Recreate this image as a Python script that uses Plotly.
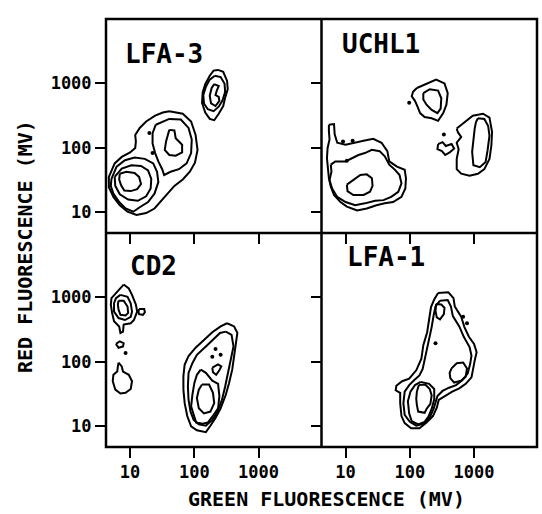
import plotly.graph_objects as go
from plotly.subplots import make_subplots

# ---------------- data (log10 of fluorescence in MV) ----------------
TICK_VALUES = [10, 100, 1000]
TICK_LABELS = ["10", "100", "1000"]
PANEL_NAMES = ["LFA-3", "UCHL1", "CD2", "LFA-1"]

# LFA-3
lfa3_outer_g = [1.61,1.82,1.95,2.02,2.05,2.01,1.93,1.82,1.69,1.58,1.48,1.38,1.25,1.10,0.96,0.84,0.74,0.67,0.67,0.76,0.87,1.00,1.08,1.09,1.08,1.15,1.25,1.39,1.51]
lfa3_outer_r = [2.57,2.53,2.41,2.20,1.97,1.77,1.63,1.51,1.41,1.29,1.18,1.06,0.99,0.96,1.01,1.11,1.24,1.39,1.55,1.76,1.86,1.93,2.00,2.10,2.20,2.31,2.41,2.50,2.55]
lfa3_c1_g = [0.71,0.79,0.92,1.07,1.23,1.36,1.42,1.44,1.38,1.28,1.15,1.05,0.93,0.83,0.74,0.70]
lfa3_c1_r = [1.52,1.71,1.81,1.85,1.83,1.76,1.63,1.47,1.29,1.16,1.08,1.01,1.06,1.16,1.29,1.41]
lfa3_c2_g = [0.76,0.87,1.02,1.17,1.28,1.33,1.32,1.25,1.12,0.97,0.84,0.77]
lfa3_c2_r = [1.55,1.68,1.73,1.72,1.65,1.52,1.37,1.25,1.18,1.20,1.28,1.41]
lfa3_c3_g = [0.84,0.94,1.07,1.14,1.17,1.11,1.01,0.91,0.86,0.83]
lfa3_c3_r = [1.60,1.63,1.61,1.55,1.44,1.36,1.33,1.34,1.42,1.51]
lfa3_b1_g = [1.40,1.61,1.79,1.91,1.96,1.95,1.88,1.76,1.63,1.53,1.50,1.44,1.39,1.35,1.35]
lfa3_b1_r = [2.36,2.45,2.44,2.31,2.13,1.92,1.76,1.67,1.63,1.58,1.67,1.79,1.92,2.07,2.23]
lfa3_b2_g = [1.61,1.69,1.71,1.81,1.81,1.71,1.61,1.54,1.56,1.59]
lfa3_b2_r = [2.28,2.27,2.15,2.05,1.93,1.88,1.89,1.97,2.10,2.20]
lfa3_a1_g = [2.37,2.45,2.51,2.52,2.48,2.45,2.38,2.31,2.24,2.17,2.12,2.13,2.17,2.24,2.30]
lfa3_a1_r = [3.21,3.18,3.04,2.91,2.78,2.65,2.53,2.43,2.45,2.55,2.70,2.86,2.99,3.12,3.20]
lfa3_a2_g = [2.32,2.41,2.47,2.48,2.44,2.38,2.30,2.21,2.15,2.14,2.18,2.24]
lfa3_a2_r = [3.12,3.10,3.00,2.87,2.74,2.64,2.57,2.60,2.69,2.82,2.95,3.06]
lfa3_a3_g = [2.31,2.38,2.35,2.33,2.38,2.39,2.33,2.26,2.24,2.27]
lfa3_a3_r = [2.99,2.96,2.89,2.82,2.79,2.73,2.65,2.69,2.81,2.93]
lfa3_dots_g = [1.30,1.35]
lfa3_dots_r = [2.23,1.92]

# UCHL1
uchl1_d1_g = [2.11,2.26,2.41,2.54,2.59,2.57,2.52,2.44,2.34,2.23,2.16,2.12,2.08,2.03,2.05]
uchl1_d1_r = [2.93,3.00,3.06,3.00,2.85,2.67,2.54,2.42,2.46,2.48,2.54,2.64,2.73,2.80,2.87]
uchl1_d2_g = [2.21,2.31,2.44,2.49,2.48,2.43,2.34,2.26,2.21]
uchl1_d2_r = [2.85,2.91,2.89,2.77,2.61,2.54,2.59,2.67,2.75]
uchl1_e1_g = [2.73,2.86,2.98,3.14,3.24,3.28,3.27,3.24,3.16,3.06,2.93,2.80,2.73,2.73,2.76,2.73,2.80,2.75]
uchl1_e1_r = [2.30,2.40,2.50,2.53,2.47,2.25,2.04,1.83,1.67,1.60,1.57,1.60,1.67,1.83,1.98,2.08,2.17,2.24]
uchl1_e2_g = [3.06,3.16,3.22,3.24,3.21,3.18,3.09,2.99,2.97,2.99,3.01,3.03]
uchl1_e2_r = [2.46,2.45,2.34,2.19,1.96,1.78,1.70,1.73,1.94,2.14,2.30,2.40]
uchl1_s_g = [2.44,2.51,2.56,2.65,2.69,2.62,2.55,2.50,2.43]
uchl1_s_r = [2.06,2.09,2.03,2.06,1.99,1.93,1.89,1.95,1.98]
uchl1_f1_g = [0.74,0.82,0.83,0.87,1.00,1.12,1.28,1.43,1.56,1.65,1.68,1.80,1.92,1.94,1.93,1.87,1.74,1.61,1.48,1.33,1.18,1.02,0.92,0.82,0.77,0.74,0.72,0.71,0.72,0.75,0.74]
uchl1_f1_r = [2.36,2.37,2.21,2.08,2.05,2.08,2.11,2.14,2.08,1.95,1.79,1.71,1.66,1.53,1.37,1.24,1.16,1.14,1.11,1.06,1.03,1.09,1.16,1.27,1.40,1.53,1.69,1.84,2.00,2.13,2.26]
uchl1_f2_g = [0.77,0.84,1.00,1.10,1.20,1.30,1.41,1.53,1.61,1.68,1.77,1.84,1.87,1.82,1.71,1.59,1.46,1.30,1.15,1.00,0.87,0.79,0.75,0.78]
uchl1_f2_r = [1.74,1.79,1.79,1.84,1.89,1.92,1.97,1.95,1.87,1.74,1.66,1.58,1.45,1.32,1.24,1.19,1.18,1.14,1.11,1.16,1.24,1.37,1.50,1.63]
uchl1_f3_g = [1.02,1.12,1.23,1.33,1.41,1.42,1.38,1.28,1.12,1.03]
uchl1_f3_r = [1.43,1.50,1.58,1.59,1.53,1.41,1.32,1.27,1.27,1.33]
uchl1_dots_g = [1.99,2.53,0.96,1.11,1.02]
uchl1_dots_r = [2.70,2.21,2.10,2.11,1.80]

# CD2
cd2_g1_g = [0.90,0.98,1.03,1.09,1.11,1.06,1.01,0.90,0.89,0.85,0.83,0.75,0.72,0.70,0.71,0.80,0.85]
cd2_g1_r = [3.20,3.14,3.04,2.89,2.78,2.65,2.60,2.58,2.47,2.45,2.55,2.63,2.76,2.89,2.99,3.09,3.14]
cd2_gs_g = [1.14,1.22,1.23,1.20,1.14,1.13]
cd2_gs_r = [2.82,2.82,2.77,2.73,2.74,2.78]
cd2_g2_g = [0.85,0.96,1.01,1.03,1.01,0.92,0.82,0.75,0.75,0.78]
cd2_g2_r = [3.04,3.01,2.91,2.78,2.70,2.65,2.68,2.78,2.91,2.99]
cd2_g3_g = [0.82,0.90,0.96,0.97,0.93,0.85,0.82,0.81]
cd2_g3_r = [2.95,2.95,2.86,2.76,2.72,2.73,2.81,2.89]
cd2_e_g = [0.78,0.84,0.90,0.89,0.82]
cd2_e_r = [2.28,2.32,2.29,2.24,2.22]
cd2_h_g = [0.82,0.87,0.89,0.98,1.03,1.01,0.93,0.85,0.77,0.73,0.74,0.80,0.81]
cd2_h_r = [1.99,1.93,1.85,1.80,1.70,1.58,1.52,1.51,1.57,1.70,1.80,1.85,1.93]
cd2_i1_g = [2.51,2.62,2.67,2.64,2.62,2.59,2.54,2.49,2.41,2.33,2.25,2.18,2.04,1.95,1.89,1.85,1.83,1.83,1.85,1.91,2.02,2.15,2.28,2.41]
cd2_i1_r = [2.60,2.55,2.45,2.24,2.03,1.88,1.67,1.49,1.28,1.13,1.01,0.91,0.94,1.00,1.16,1.36,1.57,1.78,1.96,2.09,2.22,2.34,2.46,2.55]
cd2_i2_g = [2.49,2.58,2.61,2.57,2.53,2.48,2.43,2.36,2.28,2.18,2.07,1.99,1.94,1.91,1.90,1.91,1.97,2.04,2.18,2.31,2.40]
cd2_i2_r = [2.47,2.42,2.24,2.03,1.83,1.62,1.41,1.23,1.10,1.01,1.03,1.10,1.23,1.41,1.62,1.83,1.98,2.11,2.24,2.37,2.45]
cd2_i3_g = [2.10,2.18,2.28,2.37,2.39,2.37,2.28,2.21,2.13,2.03,2.00,1.95,1.97,2.00,2.04]
cd2_i3_r = [1.88,1.83,1.71,1.66,1.47,1.28,1.15,1.06,1.04,1.06,1.15,1.31,1.49,1.67,1.80]
cd2_i4_g = [2.12,2.23,2.29,2.31,2.25,2.15,2.07,2.04,2.07]
cd2_i4_r = [1.65,1.65,1.52,1.36,1.23,1.20,1.28,1.44,1.57]
cd2_ib_g = [2.28,2.37,2.42,2.39,2.34,2.29]
cd2_ib_r = [1.91,1.96,1.93,1.87,1.80,1.84]
cd2_dots_g = [0.93,2.33,2.28,2.41]
cd2_dots_r = [2.14,2.20,2.08,2.11]

# LFA-1
lfa1_l1_g = [2.44,2.60,2.68,2.70,2.75,2.80,2.85,2.92,3.00,3.04,3.01,2.98,2.96,2.87,2.77,2.66,2.56,2.45,2.42,2.36,2.26,2.15,2.02,1.92,1.87,1.85,1.85,1.78,1.79,1.88,1.99,2.10,2.18,2.21,2.27,2.30,2.33,2.38]
lfa1_l1_r = [3.07,3.08,2.99,2.86,2.78,2.70,2.54,2.39,2.28,2.15,2.02,1.89,1.76,1.66,1.59,1.54,1.48,1.41,1.29,1.16,1.06,0.97,0.97,1.05,1.16,1.36,1.52,1.56,1.63,1.70,1.74,1.87,2.05,2.26,2.46,2.67,2.85,2.97]
lfa1_l2_g = [2.47,2.59,2.64,2.67,2.77,2.84,2.93,2.96,2.94,2.90,2.82,2.72,2.61,2.51,2.43,2.40,2.37,2.31,2.21,2.10,2.00,1.92,1.90,1.92,1.99,2.07,2.15,2.20,2.23,2.26,2.31,2.34,2.37,2.40]
lfa1_l2_r = [2.95,2.96,2.86,2.71,2.55,2.39,2.23,2.10,1.97,1.82,1.72,1.64,1.60,1.55,1.47,1.37,1.27,1.14,1.04,1.01,1.07,1.18,1.36,1.54,1.64,1.72,1.79,1.89,2.02,2.18,2.36,2.54,2.72,2.86]
lfa1_l3_g = [2.17,2.30,2.38,2.38,2.34,2.29,2.23,2.13,2.03,1.99,1.97,2.01,2.08]
lfa1_l3_r = [1.69,1.66,1.58,1.42,1.27,1.15,1.07,1.03,1.08,1.20,1.39,1.54,1.64]
lfa1_l4_g = [2.14,2.24,2.31,2.34,2.32,2.26,2.23,2.13,2.11,2.10,2.11]
lfa1_l4_r = [1.64,1.65,1.58,1.48,1.35,1.27,1.21,1.23,1.33,1.43,1.54]
lfa1_top_g = [2.41,2.49,2.54,2.53,2.47,2.42,2.40]
lfa1_top_r = [2.90,2.89,2.84,2.74,2.66,2.69,2.79]
lfa1_mid_g = [2.65,2.73,2.83,2.89,2.87,2.80,2.69,2.63,2.62]
lfa1_mid_r = [1.90,1.98,1.99,1.90,1.77,1.71,1.68,1.75,1.83]
lfa1_dots_g = [2.40,2.83,2.89]
lfa1_dots_r = [2.29,2.70,2.60]

PANELS = [
    ([(lfa3_outer_g, lfa3_outer_r), (lfa3_c1_g, lfa3_c1_r), (lfa3_c2_g, lfa3_c2_r), (lfa3_c3_g, lfa3_c3_r),
      (lfa3_b1_g, lfa3_b1_r), (lfa3_b2_g, lfa3_b2_r), (lfa3_a1_g, lfa3_a1_r), (lfa3_a2_g, lfa3_a2_r),
      (lfa3_a3_g, lfa3_a3_r)], (lfa3_dots_g, lfa3_dots_r)),
    ([(uchl1_d1_g, uchl1_d1_r), (uchl1_d2_g, uchl1_d2_r), (uchl1_e1_g, uchl1_e1_r), (uchl1_e2_g, uchl1_e2_r),
      (uchl1_s_g, uchl1_s_r), (uchl1_f1_g, uchl1_f1_r), (uchl1_f2_g, uchl1_f2_r), (uchl1_f3_g, uchl1_f3_r)],
     (uchl1_dots_g, uchl1_dots_r)),
    ([(cd2_g1_g, cd2_g1_r), (cd2_gs_g, cd2_gs_r), (cd2_g2_g, cd2_g2_r), (cd2_g3_g, cd2_g3_r),
      (cd2_e_g, cd2_e_r), (cd2_h_g, cd2_h_r), (cd2_i1_g, cd2_i1_r), (cd2_i2_g, cd2_i2_r),
      (cd2_i3_g, cd2_i3_r), (cd2_i4_g, cd2_i4_r), (cd2_ib_g, cd2_ib_r)], (cd2_dots_g, cd2_dots_r)),
    ([(lfa1_l1_g, lfa1_l1_r), (lfa1_l2_g, lfa1_l2_r), (lfa1_l3_g, lfa1_l3_r), (lfa1_l4_g, lfa1_l4_r),
      (lfa1_top_g, lfa1_top_r), (lfa1_mid_g, lfa1_mid_r)], (lfa1_dots_g, lfa1_dots_r)),
]

# ---------------- figure ----------------
W, H = 542, 514
ML, MR, MT, MB = 106, 5, 19, 67

fig = make_subplots(rows=2, cols=2, horizontal_spacing=0, vertical_spacing=0)
positions = [(1, 1), (1, 2), (2, 1), (2, 2)]

for (contours, dots), (row, col) in zip(PANELS, positions):
    for g, r in contours:
        xs = [10 ** v for v in list(g) + [g[0]]]
        ys = [10 ** v for v in list(r) + [r[0]]]
        fig.add_trace(go.Scatter(x=xs, y=ys, mode="lines",
                                 line=dict(color="black", width=2),
                                 hoverinfo="skip", showlegend=False), row=row, col=col)
    fig.add_trace(go.Scatter(x=[10 ** v for v in dots[0]], y=[10 ** v for v in dots[1]],
                             mode="markers", marker=dict(color="black", size=4),
                             hoverinfo="skip", showlegend=False), row=row, col=col)

tickfont = dict(family="DejaVu Sans Mono", size=17, color="black", weight="bold")
axis_common = dict(type="log", showgrid=False, zeroline=False, showline=False, automargin=False,
                   ticks="outside", ticklen=10, tickwidth=2,
                   tickcolor="black", tickvals=TICK_VALUES, ticktext=TICK_LABELS, tickfont=tickfont)

xdom = [[0, 0.5], [0.5, 1], [0, 0.5], [0.5, 1]]
ydom = [[0.5, 1], [0.5, 1], [0, 0.5], [0, 0.5]]
for i in range(4):
    sfx = "" if i == 0 else str(i + 1)
    fig.update_layout(**{
        "xaxis" + sfx: dict(axis_common, range=[0.625, 3.98], domain=xdom[i],
                            showticklabels=(i >= 2)),
        "yaxis" + sfx: dict(axis_common, range=[0.68, 4.0], domain=ydom[i],
                            showticklabels=(i % 2 == 0)),
    })

frame = dict(color="black", width=2.5)
shape_common = dict(xref="paper", yref="paper", line=frame, opacity=1,
                    fillcolor="rgba(0,0,0,0)", layer="above")
shapes = [
    dict(shape_common, type="rect", x0=0, x1=1, y0=0, y1=1),
    dict(shape_common, type="line", x0=0.5, x1=0.5, y0=0, y1=1),
    dict(shape_common, type="line", x0=0, x1=1, y0=0.5, y1=0.5),
]

pw, ph = W - ML - MR, H - MT - MB


def px(x):
    return (x - ML) / pw


def py(y):
    return (H - MB - y) / ph


label_pos = [(123, 54), (340, 44), (128, 266), (345, 257)]
annotations = []
for name, (lx, ly) in zip(PANEL_NAMES, label_pos):
    annotations.append(dict(text=name, x=px(lx), y=py(ly), xref="paper", yref="paper",
                            xanchor="left", yanchor="middle", showarrow=False,
                            font=dict(family="DejaVu Sans Mono", size=26, color="black", weight="bold")))
annotations.append(dict(text="GREEN FLUORESCENCE (MV)", x=px(326), y=py(499), xref="paper", yref="paper",
                        xanchor="center", yanchor="middle", showarrow=False,
                        font=dict(family="DejaVu Sans Mono", size=20, color="black", weight="bold")))
annotations.append(dict(text="RED FLUORESCENCE (MV)", x=px(25), y=py(247), xref="paper", yref="paper",
                        xanchor="center", yanchor="middle", showarrow=False, textangle=-90,
                        font=dict(family="DejaVu Sans Mono", size=20, color="black", weight="bold")))

fig.update_layout(width=W, height=H, autosize=False, template="none",
                  margin=dict(l=ML, r=MR, t=MT, b=MB),
                  paper_bgcolor="white", plot_bgcolor="white",
                  showlegend=False, annotations=annotations, shapes=shapes)

fig.write_html("out.html", config={"displayModeBar": False},
               post_script="document.body.style.margin='0px';")
